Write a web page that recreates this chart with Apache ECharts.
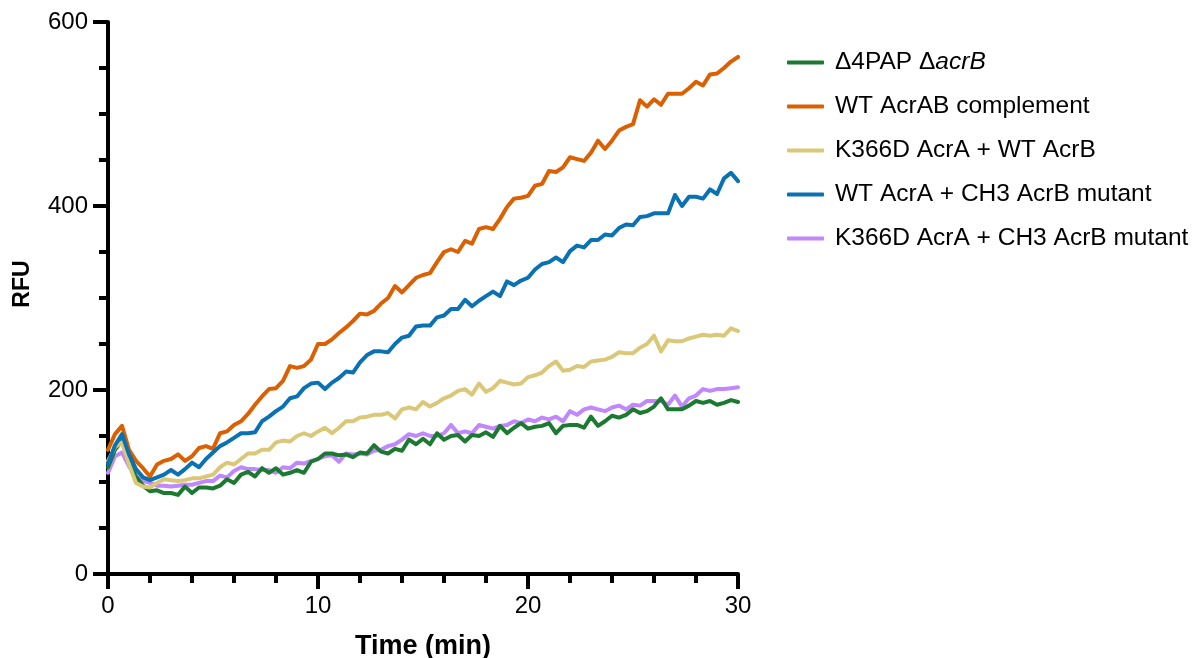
<!DOCTYPE html>
<html>
<head>
<meta charset="utf-8">
<script src="https://cdn.jsdelivr.net/npm/echarts@6/dist/echarts.min.js"></script>
<style>html,body{margin:0;padding:0;background:#fff}#c{width:1194px;height:658px}</style>
</head>
<body>
<div id="c"></div>
<script>
// sampling interval (min)
const timeStepMin = 1 / 3;
const xTicks = [0, 10, 20, 30];
const yTicks = [0, 200, 400, 600];
const seriesNames = ['Δ4PAP ΔacrB', 'WT AcrAB complement', 'K366D AcrA + WT AcrB', 'WT AcrA + CH3 AcrB mutant', 'K366D AcrA + CH3 AcrB mutant'];

const delta4PAP = [116,135,145,123,106,96,90,91,88,88,86,95,88,94,94,93,96,103,99,108,111,
  106,115,110,115,108,110,113,110,122,125,131,131,129,130,127,132,131,140,133,
  131,136,134,146,141,147,141,153,146,150,151,144,151,150,154,149,161,
  153,159,164,158,160,161,164,153,161,162,162,159,171,161,166,172,
  170,173,179,175,177,182,191,179,179,179,183,188,186,188,184,186,189,187];
const wtAcrAB = [135,152,161,135,123,115,106,119,123,125,130,123,128,137,139,136,153,155,162,166,174,
  184,193,201,202,210,226,224,226,233,250,250,255,262,268,275,283,282,286,294,
  300,313,306,314,322,325,327,339,350,353,350,362,359,375,377,375,386,
  399,408,409,411,422,424,438,437,442,453,451,449,458,471,462,471,
  482,486,489,515,508,516,510,522,522,522,528,535,531,543,544,550,557,562];
const k366dWtB = [123,138,143,119,99,95,94,99,103,102,101,102,104,104,106,108,116,121,119,125,131,
  131,135,135,143,145,144,150,153,150,155,159,153,159,166,166,170,171,173,173,
  175,169,179,181,179,187,182,186,191,194,199,201,195,207,198,202,210,
  208,206,207,214,216,219,226,231,221,222,226,225,231,232,233,236,
  241,240,240,246,250,259,242,254,253,253,256,258,260,259,260,259,267,264];
const wtACh3B = [120,140,152,130,114,105,102,105,108,113,108,114,121,116,125,132,139,143,148,153,153,
  154,166,171,177,182,191,193,202,207,208,201,208,213,220,219,230,238,242,242,
  241,250,257,259,269,270,270,279,281,288,288,298,291,297,302,307,302,
  318,314,319,322,331,337,339,344,339,351,357,355,363,363,369,368,
  376,380,379,388,389,392,392,392,412,400,410,410,408,418,413,430,436,427];
const k366dCh3B = [110,128,132,117,106,101,99,96,96,95,96,97,97,99,101,101,107,105,112,116,114,
  114,113,113,110,116,115,121,120,123,125,128,129,122,131,130,131,130,134,135,
  139,141,146,152,150,153,150,150,153,162,153,155,153,162,160,158,161,
  162,166,164,168,166,170,168,171,166,177,173,179,181,179,177,181,
  183,179,184,183,188,188,188,184,194,182,191,194,201,199,201,201,202,203];

const colors = ['#1b7a30', '#db6002', '#dac878', '#0a72b3', '#c187fd'];
const valueLists = [delta4PAP, wtAcrAB, k366dWtB, wtACh3B, k366dCh3B];
const FONT = '"Liberation Sans", Arial, Helvetica, sans-serif';

function pairs(vals) { return vals.map((v, i) => [i * timeStepMin, v]); }

const chart = echarts.init(document.getElementById('c'), null, {renderer: 'canvas'});
chart.setOption({
  animation: false,
  backgroundColor: '#ffffff',
  grid: {left: 108, right: 456, top: 22, bottom: 84, containLabel: false, outerBoundsMode: 'none'},
  legend: {
    orient: 'vertical',
    left: 782, top: 45,
    itemWidth: 37, itemHeight: 4,
    itemGap: 19,
    icon: 'roundRect',
    data: seriesNames,
    formatter: function (name) {
      if (name === seriesNames[0]) return '{n|Δ4PAP Δ}{i|acrB}';
      return '{n|' + name + '}';
    },
    textStyle: {
      fontFamily: FONT, fontSize: 24.5, color: '#000', lineHeight: 24,
      padding: [0, 0, 0, 6],
      rich: {
        n: {fontFamily: FONT, fontSize: 24.5, color: '#000', lineHeight: 24},
        i: {fontFamily: FONT, fontSize: 24.5, color: '#000', fontStyle: 'italic', lineHeight: 24}
      }
    }
  },
  xAxis: {
    type: 'value', min: xTicks[0], max: xTicks[xTicks.length - 1], interval: xTicks[1] - xTicks[0],
    name: 'Time (min)', nameLocation: 'middle', nameGap: 59,
    nameTextStyle: {fontFamily: FONT, fontSize: 27, fontWeight: 'bold', color: '#000'},
    axisLine: {show: true, lineStyle: {color: '#000', width: 4}},
    axisTick: {show: true, length: 15, lineStyle: {color: '#000', width: 4}},
    minorTick: {show: true, splitNumber: 5, length: 9, lineStyle: {color: '#000', width: 4}},
    axisLabel: {fontFamily: FONT, fontSize: 24, color: '#000', margin: 20},
    splitLine: {show: false}
  },
  yAxis: {
    type: 'value', min: yTicks[0], max: yTicks[yTicks.length - 1], interval: yTicks[1] - yTicks[0],
    name: 'RFU', nameLocation: 'middle', nameGap: 74, nameRotate: 90,
    nameTextStyle: {fontFamily: FONT, fontSize: 23, fontWeight: 'bold', color: '#000', padding: [0, 0, 0, 28]},
    axisLine: {show: true, lineStyle: {color: '#000', width: 4}},
    axisTick: {show: true, length: 15, lineStyle: {color: '#000', width: 4}},
    minorTick: {show: true, splitNumber: 4, length: 9, lineStyle: {color: '#000', width: 4}},
    axisLabel: {fontFamily: FONT, fontSize: 24, color: '#000', margin: 20},
    splitLine: {show: false}
  },
  series: seriesNames.map((n, k) => ({
    name: n, type: 'line', data: pairs(valueLists[k]),
    showSymbol: false, symbol: 'none', smooth: false,
    z: k === 4 ? 1 : 2,
    color: colors[k],
    lineStyle: {color: colors[k], width: 4, cap: 'round', join: 'round'}
  }))
});
</script>
</body>
</html>
